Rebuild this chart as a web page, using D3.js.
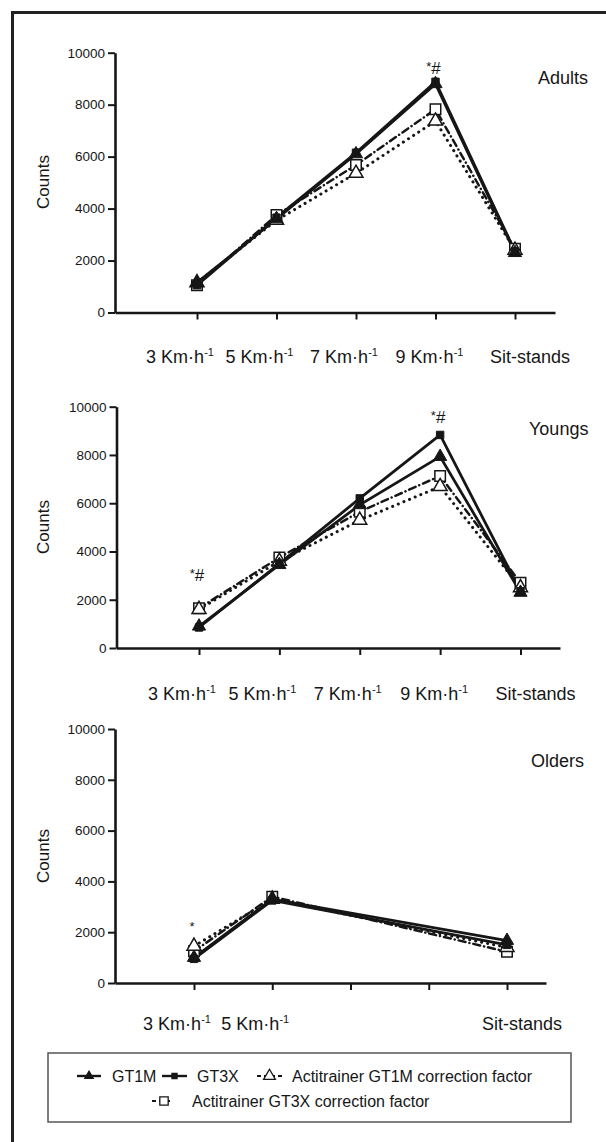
<!DOCTYPE html>
<html>
<head>
<meta charset="utf-8">
<script src="https://cdn.jsdelivr.net/npm/d3@7/dist/d3.min.js"></script>
<style>
  body { margin: 0; background: #fff; }
  text { font-family: "Liberation Sans", Arial, sans-serif; fill: #161616; }
</style>
</head>
<body>
<script>
// categories and tick labels
var categories = ["3 Km·h", "5 Km·h", "7 Km·h", "9 Km·h", "Sit-stands"];
var superscripts = ["-1", "-1", "-1", "-1", ""];
var olderCategories = ["3 Km·h", "5 Km·h", "", "", "Sit-stands"];
var yTicks = [0, 2000, 4000, 6000, 8000, 10000];
var seriesNames = ["GT1M", "GT3X", "Actitrainer GT1M correction factor", "Actitrainer GT3X correction factor"];

// counts
var adultsGT1M     = [1150, 3600, 6100, 8800, 2300];
var adultsGT3X     = [1050, 3650, 6150, 8880, 2350];
var adultsActiGT1M = [1150, 3550, 5360, 7370, 2400];
var adultsActiGT3X = [1050, 3750, 5680, 7820, 2450];

var youngsGT1M     = [900, 3450, 5930, 7930, 2300];
var youngsGT3X     = [850, 3500, 6200, 8830, 2350];
var youngsActiGT1M = [1600, 3600, 5300, 6690, 2500];
var youngsActiGT3X = [1650, 3750, 5650, 7130, 2700];

var oldersGT1M     = [1000, 3300, null, null, 1670];
var oldersGT3X     = [950, 3250, null, null, 1500];
var oldersActiGT1M = [1450, 3300, null, null, 1400];
var oldersActiGT3X = [1250, 3400, null, null, 1230];

// significance marks: category index, text, height (counts)
var adultsNotes = [{ cat: 3, text: "#", star: true, value: 9420 }];
var youngsNotes = [{ cat: 3, text: "#", star: true, value: 9580 }, { cat: 0, text: "#", star: true, value: 3030 }];
var oldersNotes = [{ cat: 0, text: "", star: true, value: 2180 }];

var svg = d3.select("body").append("svg")
  .attr("width", 606)
  .attr("height", 1142);

// outer frame (runs off the right and bottom)
svg.append("path")
  .attr("d", "M12.5,1142 L12.5,12.5 L606,12.5")
  .attr("fill", "none")
  .attr("stroke", "#222")
  .attr("stroke-width", 3);

var styles = [
  { dash: null, width: 2.8, type: d3.symbolTriangle, filled: true, size: 75 },
  { dash: null, width: 2.8, type: d3.symbolSquare, filled: true, size: 55 },
  { dash: "0.1,6", width: 3, type: d3.symbolTriangle, filled: false, size: 85 },
  { dash: "7,4,0.1,4", width: 2.5, type: d3.symbolSquare, filled: false, size: 110 }
];

var panels = [
  { name: "Adults", series: [adultsGT1M, adultsGT3X, adultsActiGT1M, adultsActiGT3X], notes: adultsNotes, labels: categories,
    axisX: 115, axisEnd: 555, x0: 197, x4: 515, yTop: 52.7, yBottom: 312.5, labelY: 363, titleX: 538, titleY: 83.5, countsY: 182 },
  { name: "Youngs", series: [youngsGT1M, youngsGT3X, youngsActiGT1M, youngsActiGT3X], notes: youngsNotes, labels: categories,
    axisX: 116.5, axisEnd: 560, x0: 199, x4: 520.5, yTop: 406.7, yBottom: 648, labelY: 700, titleX: 529, titleY: 435, countsY: 527 },
  { name: "Olders", series: [oldersGT1M, oldersGT3X, oldersActiGT1M, oldersActiGT3X], notes: oldersNotes, labels: olderCategories,
    axisX: 115, axisEnd: 546, x0: 194, x4: 507, yTop: 729, yBottom: 983, labelY: 1030, titleX: 531, titleY: 766.5, countsY: 856 }
];

// labels sit a little off their ticks in the original
var labelShift = [-17, -17, -12, -6, 15];

panels.forEach(function (p) {
  var g = svg.append("g");

  var x = d3.scaleLinear().domain([0, 4]).range([p.x0, p.x4]);
  var y = d3.scaleLinear().domain([0, 10000]).range([p.yBottom, p.yTop]);

  // x axis runs past the first/last category
  var xAxisScale = d3.scaleLinear()
    .domain([x.invert(p.axisX), x.invert(p.axisEnd)])
    .range([p.axisX, p.axisEnd]);

  var xAxis = g.append("g")
    .attr("transform", "translate(0," + p.yBottom + ")")
    .call(d3.axisBottom(xAxisScale).tickValues([0, 1, 2, 3, 4]).tickFormat("").tickSize(7).tickSizeOuter(0));

  var yAxis = g.append("g")
    .attr("transform", "translate(" + p.axisX + ",0)")
    .call(d3.axisLeft(y).tickValues(yTicks).tickFormat(d3.format("d")).tickSize(7).tickSizeOuter(0).tickPadding(3));

  [xAxis, yAxis].forEach(function (a) {
    a.select(".domain").attr("stroke", "#161616").attr("stroke-width", 2.6);
    a.selectAll(".tick line").attr("stroke", "#161616").attr("stroke-width", 2);
  });
  yAxis.selectAll(".tick text")
    .attr("fill", "#161616")
    .style("font-size", "13.5px")
    .style("font-family", "'Liberation Sans', Arial, sans-serif");

  // category labels
  var lab = g.selectAll("text.cat")
    .data(p.labels)
    .enter().append("text")
    .attr("class", "cat")
    .attr("x", function (d, i) { return x(i) + labelShift[i]; })
    .attr("y", p.labelY)
    .attr("text-anchor", "middle")
    .style("font-size", "18px");
  lab.append("tspan").text(function (d) { return d; });
  lab.append("tspan")
    .attr("dy", -7)
    .style("font-size", "11px")
    .text(function (d, i) { return d ? superscripts[i] : ""; });

  // title and y label
  g.append("text")
    .attr("x", p.titleX)
    .attr("y", p.titleY)
    .style("font-size", "18px")
    .text(p.name);

  g.append("text")
    .attr("transform", "translate(48.5," + p.countsY + ") rotate(-90)")
    .attr("text-anchor", "middle")
    .style("font-size", "17px")
    .text("Counts");

  // lines: correction-factor series underneath
  var line = d3.line()
    .x(function (d) { return x(d.i); })
    .y(function (d) { return y(d.v); });

  var pts = p.series.map(function (s) {
    return s.map(function (v, i) { return { i: i, v: v }; })
      .filter(function (d) { return d.v !== null; });
  });

  [2, 3, 0, 1].forEach(function (k) {
    g.append("path")
      .datum(pts[k])
      .attr("d", line)
      .attr("fill", "none")
      .attr("stroke", "#161616")
      .attr("stroke-width", styles[k].width)
      .attr("stroke-linecap", styles[k].dash ? "round" : "butt")
      .attr("stroke-linejoin", "miter")
      .attr("stroke-dasharray", styles[k].dash);
  });

  // markers: open ones first, filled on top
  [3, 2, 0, 1].forEach(function (k) {
    var st = styles[k];
    g.selectAll("path.m" + k)
      .data(pts[k])
      .enter().append("path")
      .attr("class", "m" + k)
      .attr("d", d3.symbol().type(st.type).size(st.size))
      .attr("transform", function (d) { return "translate(" + x(d.i) + "," + y(d.v) + ")"; })
      .attr("fill", st.filled ? "#161616" : "#fff")
      .attr("stroke", "#161616")
      .attr("stroke-width", st.filled ? 1 : 1.5);
  });

  // significance marks
  var nt = g.selectAll("text.note")
    .data(p.notes)
    .enter().append("text")
    .attr("class", "note")
    .attr("x", function (d) { return x(d.cat) - 2; })
    .attr("y", function (d) { return y(d.value) + 6; })
    .attr("text-anchor", "middle")
    .style("font-size", "17px");
  nt.append("tspan")
    .attr("dy", -3)
    .style("font-size", "13px")
    .text(function (d) { return d.star ? "*" : ""; });
  nt.append("tspan")
    .attr("dy", 3)
    .text(function (d) { return d.text; });
});

// legend
var legend = svg.append("g");
legend.append("rect")
  .attr("x", 48).attr("y", 1053)
  .attr("width", 523).attr("height", 69)
  .attr("fill", "none")
  .attr("stroke", "#555")
  .attr("stroke-width", 1.5);

var legendPos = [
  { x1: 77, x2: 101, tx: 112, y: 1076 },
  { x1: 162, x2: 187, tx: 197, y: 1076 },
  { x1: 257, x2: 282, tx: 292, y: 1076 },
  { x1: 152, x2: 170, tx: 192, y: 1101 }
];
var legendSymbolSize = [30, 26, 60, 70];

seriesNames.forEach(function (name, k) {
  var lp = legendPos[k], st = styles[k];
  legend.append("line")
    .attr("x1", lp.x1).attr("x2", lp.x2)
    .attr("y1", lp.y).attr("y2", lp.y)
    .attr("stroke", "#161616")
    .attr("stroke-width", k < 2 ? 2.4 : 2)
    .attr("stroke-dasharray", k < 2 ? null : "4,3");
  legend.append("path")
    .attr("d", d3.symbol().type(st.type).size(legendSymbolSize[k]))
    .attr("transform", "translate(" + ((lp.x1 + lp.x2) / 2 + (k == 3 ? 3 : 0)) + "," + lp.y + ")")
    .attr("fill", st.filled ? "#161616" : "#fff")
    .attr("stroke", "#161616")
    .attr("stroke-width", 1.3);
  legend.append("text")
    .attr("x", lp.tx)
    .attr("y", lp.y + 5.5)
    .style("font-size", "16px")
    .text(name);
});
</script>
</body>
</html>
